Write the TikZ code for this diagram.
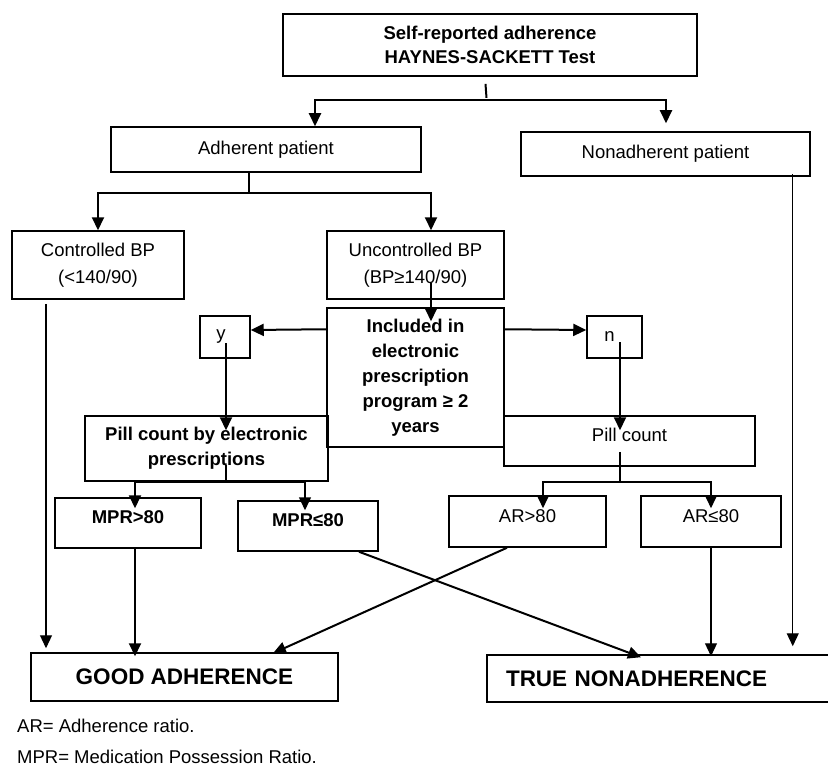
\documentclass[tikz,border=0pt]{standalone}
\usepackage{fontspec}
\setmainfont{Liberation Sans}
\usetikzlibrary{arrows.meta,calc}
\begin{document}
\begin{tikzpicture}[x=1pt,y=-1pt,
  box/.style={draw,line width=1.5pt,inner sep=0pt,align=center,font=\fontsize{18.5}{25}\selectfont},
  bbox/.style={box,font=\fontsize{18.5}{25}\selectfont\bfseries},
  arr/.style={line width=2pt,-{Triangle[length=13pt,width=12pt]}},
  marr/.style={line width=1.5pt,-{Triangle[length=13pt,width=12pt]}},
  tarr/.style={line width=1.2pt,-{Triangle[length=13pt,width=12pt]}},
  ln/.style={line width=2pt},
  tln/.style={line width=1.2pt},
  raised/.style={text height=13pt,text depth=12pt}]
\useasboundingbox (0,0) rectangle (828,768);
\fill[white] (0,0) rectangle (828,768);

% boxes
\node[bbox,line width=1.8pt,minimum width=414pt,minimum height=62pt,font=\fontsize{18.5}{24}\selectfont\bfseries] (nTop) at (490,45) {Self-reported adherence\\HAYNES-SACKETT Test};
\node[box,minimum width=310pt,minimum height=45pt] (nAdh) at (266,149.5) {Adherent patient};
\node[box,minimum width=289pt,minimum height=44pt] (nNon) at (665.5,154) {Nonadherent patient};
\node[box,minimum width=172pt,minimum height=68pt,font=\fontsize{18.5}{27}\selectfont] (nCtrl) at (98,265) {Controlled BP\\(<140/90)};
\node[box,minimum width=177pt,minimum height=68pt,font=\fontsize{18.5}{27}\selectfont] (nUnc) at (415.5,265) {Uncontrolled BP\\(BP≥140/90)};
\node[bbox,minimum width=177pt,minimum height=139pt] (nIncl) at (415.5,377.5) {Included in\\electronic\\prescription\\program ≥ 2\\years};
\node[box,minimum width=50pt,minimum height=42pt] (nY) at (225,337) {y\hspace*{8pt}};
\node[box,minimum width=55pt,minimum height=42pt] (nN) at (614.5,337) {n\hspace*{10pt}};
\node[bbox,minimum width=243pt,minimum height=65pt] (nPillE) at (206.5,448.5) {Pill count by electronic\\prescriptions};
\node[box,raised,minimum width=251pt,minimum height=50pt] (nPill) at (629.5,441) {Pill count};
\node[bbox,raised,minimum width=146pt,minimum height=50pt] (nMprA) at (128,523) {MPR>80};
\node[bbox,raised,minimum width=140pt,minimum height=50pt] (nMprB) at (308,526) {MPR≤80};
\node[box,raised,minimum width=157pt,minimum height=51pt] (nArA) at (527.5,521.5) {AR>80};
\node[box,raised,minimum width=140pt,minimum height=51pt] (nArB) at (711,521.5) {AR≤80};
\node[bbox,minimum width=307pt,minimum height=48pt,font=\fontsize{22.5}{27}\selectfont\bfseries] (nGood) at (184.5,677) {GOOD ADHERENCE};
\node[bbox,minimum width=358pt,minimum height=47pt,text width=320pt,inner xsep=19pt,align=left,font=\fontsize{22.5}{27}\selectfont\bfseries] (nTrue) at (666,678.5) {TRUE NONADHERENCE};

% legend
\node[anchor=west,inner sep=0pt,font=\fontsize{18.5}{22}\selectfont] (nLegA) at (17,726) {AR= Adherence ratio.};
\node[anchor=west,inner sep=0pt,font=\fontsize{18.5}{22}\selectfont] (nLegB) at (17,757) {MPR= Medication Possession Ratio.};

% top branching
\coordinate (tk1) at ($(nTop.south)+(-4.5,7)$);
\coordinate (tk2) at ($(nTop.south)+(-3.5,21)$);
\draw[ln] (tk1) -- (tk2);
\coordinate (b1) at ($(nTop.south)+(-3,23)$);
\draw[arr] (b1) -| ([xshift=49pt]nAdh.north);
\draw[arr] (b1) -| ($(nNon.north)+(0.5,-8)$);

% adherent branching
\coordinate (b2) at ($(nAdh.south)+(-17,20)$);
\draw[ln] (nAdh.south -| b2) -- (b2);
\draw[arr] (b2) -| (nCtrl.north);
\draw[arr] (b2) -| ([xshift=15.5pt]nUnc.north);

% controlled -> good
\draw[tarr] ($(nCtrl.south)+(-52,4)$) -- ($(nGood.north -| nCtrl.south)+(-52,-4)$);

% uncontrolled -> included
\draw[arr] ($(nUnc.south)+(15.5,-17)$) -- ($(nIncl.north)+(15.5,14)$);

% included -> y / n
\draw[arr] ($(nIncl.north west)+(0,22)$) -- ($(nY.east)+(0,-7)$);
\draw[arr] ($(nIncl.north east)+(0,22)$) -- ($(nN.west)+(0,-7)$);

% y -> pill count by e-prescriptions, n -> pill count
\draw[arr] ($(nY.center)+(1,6)$) -- ($(nPillE.north -| nY.center)+(1,15)$);
\draw[arr] ($(nN.center)+(5.5,5)$) -- ($(nPill.north -| nN.center)+(5.5,15)$);

% pill count e -> MPR boxes
\coordinate (b3) at ($(nPillE.south -| nY.center)+(1,0)$);
\draw[tln] ($(b3)+(0,-17)$) -- (b3);
\draw[arr] (b3) -| ($(nMprA.north)+(7,11)$);
\draw[marr] (b3) -| ($(nMprB.north)+(-3,10)$);

% pill count -> AR boxes
\coordinate (b4) at ($(nPill.south -| nN.center)+(5.5,15)$);
\draw[tln] ($(nPill.south -| nN.center)+(5.5,-15)$) -- (b4);
\draw[marr] (b4) -| ($(nArA.north)+(15.5,13)$);
\draw[marr] (b4) -| ($(nArB.north)+(0,13)$);

% to final boxes
\draw[arr] ($(nMprA.south)+(7,0)$) -- ($(nGood.north -| nMprA.south)+(7,4)$);
\draw[arr] ($(nMprB.south)+(51,0)$) -- ($(nTrue.north)+(-25,3)$);
\draw[arr] ($(nArA.south)+(-20.5,0)$) -- ($(nGood.north)+(88.5,1)$);
\draw[tarr] (nArB.south) -- ($(nTrue.north -| nArB.south)+(0,2)$);
\draw[tarr] ($(nNon.south east)+(-18,-3)$) -- ($(nTrue.north -| nNon.south east)+(-18,-8)$);
\end{tikzpicture}
\end{document}
